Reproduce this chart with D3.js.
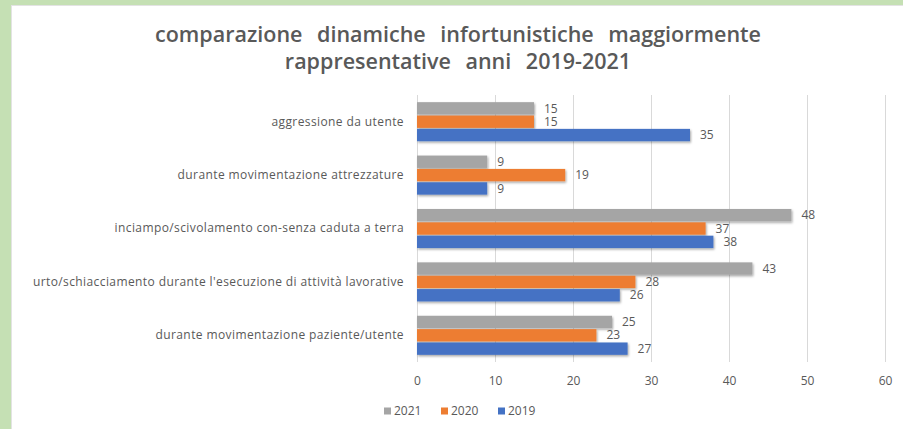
<!DOCTYPE html>
<html>
<head>
<meta charset="utf-8">
<script src="https://cdn.jsdelivr.net/npm/d3@7"></script>
<style>
  html, body { margin: 0; padding: 0; background: #fff; }
  svg { display: block; font-family: "Open Sans", sans-serif; }
</style>
</head>
<body>
<div id="chart"></div>
<script>
// categories, top to bottom
const categories = [
  "aggressione da utente",
  "durante movimentazione attrezzature",
  "inciampo/scivolamento con-senza caduta a terra",
  "urto/schiacciamento durante l'esecuzione di attività lavorative",
  "durante movimentazione paziente/utente"
];
const years = ["2021", "2020", "2019"];
const values2021 = [15, 9, 48, 43, 25];
const values2020 = [15, 19, 37, 28, 23];
const values2019 = [35, 9, 38, 26, 27];
const xTicks = [0, 10, 20, 30, 40, 50, 60];
const titleLines = [
  "comparazione dinamiche infortunistiche maggiormente",
  "rappresentative anni 2019-2021"
];

const seriesValues = { "2021": values2021, "2020": values2020, "2019": values2019 };
const colors = { "2021": "#a5a5a5", "2020": "#ed7d31", "2019": "#4472c4" };

const width = 903, height = 429;
const plot = { left: 417, right: 885, top: 95, bottom: 362 };
const textColor = "#595959";

const svg = d3.select("#chart").append("svg")
  .attr("width", width)
  .attr("height", height);

// shadow under the bars
const defs = svg.append("defs");
defs.append("filter")
  .attr("id", "shadow")
  .attr("x", "-5%").attr("y", "-30%")
  .attr("width", "110%").attr("height", "170%")
  .append("feDropShadow")
  .attr("dx", 1).attr("dy", 1.5)
  .attr("stdDeviation", 1.2)
  .attr("flood-color", "#000")
  .attr("flood-opacity", 0.35);

// green frame
svg.append("rect").attr("x", 0).attr("y", 0).attr("width", width).attr("height", 5).attr("fill", "#c5e0b4");
svg.append("rect").attr("x", 0).attr("y", 0).attr("width", 11).attr("height", height).attr("fill", "#c5e0b4");
svg.append("line").attr("x1", 11.5).attr("x2", 11.5).attr("y1", 5).attr("y2", height)
  .attr("stroke", "#e3e3e3").attr("stroke-width", 1);
svg.append("line").attr("x1", 11).attr("x2", width).attr("y1", 5.5).attr("y2", 5.5)
  .attr("stroke", "#e3e3e3").attr("stroke-width", 1);

// title
svg.append("text")
  .attr("text-anchor", "middle")
  .attr("fill", textColor)
  .attr("font-size", 21.5)
  .attr("font-weight", 600)
  .attr("word-spacing", 9)
  .selectAll("tspan")
  .data(titleLines)
  .join("tspan")
  .attr("x", 458)
  .attr("y", (d, i) => 42 + i * 27)
  .text(d => d);

// scales
const x = d3.scaleLinear().domain([0, 60]).range([plot.left, plot.right]);
const y = d3.scaleBand().domain(categories).range([plot.top, plot.bottom])
  .paddingInner(0.25).paddingOuter(0.125);
const ySub = d3.scaleBand().domain(years).range([0, y.bandwidth()]);

// gridlines
svg.append("g")
  .selectAll("line")
  .data(xTicks)
  .join("line")
  .attr("x1", d => Math.round(x(d)) + 0.5)
  .attr("x2", d => Math.round(x(d)) + 0.5)
  .attr("y1", plot.top)
  .attr("y2", plot.bottom)
  .attr("stroke", "#d9d9d9")
  .attr("stroke-width", 1);

// x axis labels
const xAxis = svg.append("g")
  .attr("transform", `translate(0,${plot.bottom})`)
  .call(d3.axisBottom(x).tickValues(xTicks).tickSize(0).tickPadding(14));
xAxis.select(".domain").remove();
xAxis.selectAll("text")
  .attr("font-family", "Open Sans, sans-serif")
  .attr("font-size", 12)
  .attr("fill", textColor);

// category labels
const yAxis = svg.append("g")
  .attr("transform", `translate(${plot.left},0)`)
  .call(d3.axisLeft(y).tickSize(0).tickPadding(13));
yAxis.select(".domain").remove();
yAxis.selectAll("text")
  .attr("font-family", "Open Sans, sans-serif")
  .attr("font-size", 12)
  .attr("letter-spacing", 0.4)
  .attr("fill", textColor);

// bars
const groups = svg.append("g")
  .selectAll("g")
  .data(categories)
  .join("g")
  .attr("transform", d => `translate(0,${y(d)})`);

const rows = groups.selectAll("g")
  .data((c, i) => years.map(yr => ({ year: yr, value: seriesValues[yr][i] })))
  .join("g");

rows.append("rect")
  .attr("x", x(0))
  .attr("y", d => ySub(d.year) + 0.5)
  .attr("width", d => x(d.value) - x(0))
  .attr("height", ySub.bandwidth() - 1)
  .attr("fill", d => colors[d.year])
  .attr("filter", "url(#shadow)");

rows.append("text")
  .attr("x", d => x(d.value) + 10)
  .attr("y", d => ySub(d.year) + ySub.bandwidth() / 2)
  .attr("dy", "0.35em")
  .attr("font-size", 12)
  .attr("fill", textColor)
  .text(d => d.value);

// legend
const legendX = [384, 441, 498];
const legend = svg.append("g")
  .selectAll("g")
  .data(years)
  .join("g")
  .attr("transform", (d, i) => `translate(${legendX[i]},411)`);
legend.append("rect")
  .attr("x", 0).attr("y", -3.5)
  .attr("width", 7).attr("height", 7)
  .attr("fill", d => colors[d]);
legend.append("text")
  .attr("x", 10)
  .attr("dy", "0.35em")
  .attr("font-size", 12)
  .attr("fill", textColor)
  .text(d => d);
</script>
</body>
</html>
